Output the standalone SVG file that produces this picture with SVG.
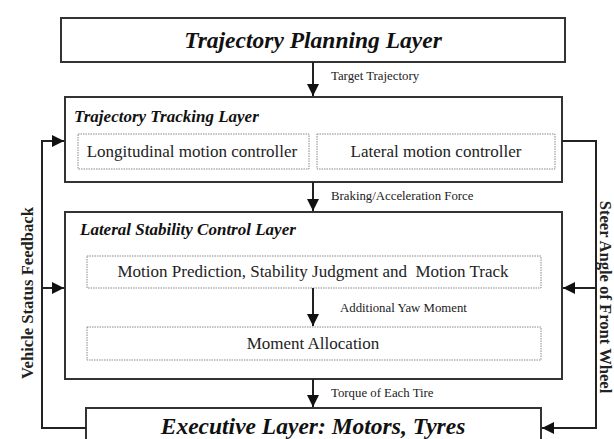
<svg xmlns="http://www.w3.org/2000/svg" width="614" height="439" viewBox="0 0 614 439">
<style>
.box{fill:#fff;stroke:#333;stroke-width:2}
.sub{fill:#fff;stroke:#888;stroke-width:1;stroke-dasharray:1.5 1}
.ln{fill:none;stroke:#222;stroke-width:2}
text{font-family:'Liberation Serif','Times New Roman',serif}
.bt{font-weight:bold;font-style:italic;fill:#111}
.rt{fill:#222;font-size:17px}
.lbl{font-size:12.8px;fill:#222}
.side{font-weight:bold;font-size:16.6px;fill:#222}
</style>
<defs>
<marker id="ah" viewBox="0 0 10 10" refX="10" refY="5" markerWidth="6" markerHeight="6" markerUnits="strokeWidth" orient="auto">
<path d="M0,0 L10,5 L0,10 Z" fill="#111"/>
</marker>
</defs>
<rect width="614" height="439" fill="#fff"/>
<g id="planning">
<rect class="box" x="61" y="18" width="504" height="44"/>
<text class="bt" x="313" y="48" font-size="23.5px" text-anchor="middle">Trajectory Planning Layer</text>
</g>
<g id="tracking">
<rect class="box" x="65" y="97" width="497" height="85"/>
<text class="bt" x="74" y="122" font-size="17px">Trajectory Tracking Layer</text>
<g id="longitudinal">
<rect class="sub" x="78" y="134" width="231" height="35"/>
<text class="rt" x="192" y="157" text-anchor="middle">Longitudinal motion controller</text>
</g>
<g id="lateral-ctrl">
<rect class="sub" x="317" y="134" width="238" height="35"/>
<text class="rt" x="436" y="157" text-anchor="middle">Lateral motion controller</text>
</g>
</g>
<g id="stability">
<rect class="box" x="65" y="212" width="497" height="167"/>
<text class="bt" x="80" y="235" font-size="17px">Lateral Stability Control Layer</text>
<g id="prediction">
<rect class="sub" x="87" y="256" width="454" height="32"/>
<text class="rt" x="313" y="277" text-anchor="middle" xml:space="preserve">Motion Prediction, Stability Judgment and  Motion Track</text>
</g>
<g id="allocation">
<rect class="sub" x="87" y="327" width="454" height="33"/>
<text class="rt" x="313" y="349" text-anchor="middle">Moment Allocation</text>
</g>
</g>
<g id="executive">
<rect class="box" x="86" y="408" width="455" height="40"/>
<text class="bt" x="313" y="434" font-size="23.5px" text-anchor="middle">Executive Layer: Motors, Tyres</text>
</g>
<g id="connectors">
<line class="ln" x1="313" y1="62" x2="313" y2="96" marker-end="url(#ah)"/>
<text class="lbl" x="331" y="80">Target Trajectory</text>
<line class="ln" x1="313" y1="182" x2="313" y2="211" marker-end="url(#ah)"/>
<text class="lbl" x="331" y="200">Braking/Acceleration Force</text>
<line class="ln" x1="313" y1="288" x2="313" y2="326" marker-end="url(#ah)"/>
<text class="lbl" x="340" y="312">Additional Yaw Moment</text>
<line class="ln" x1="313" y1="379" x2="313" y2="407" marker-end="url(#ah)"/>
<text class="lbl" x="331" y="397">Torque of Each Tire</text>
<polyline class="ln" points="86,428 42,428 42,141 64,141" marker-end="url(#ah)"/>
<line class="ln" x1="42" y1="288" x2="64" y2="288" marker-end="url(#ah)"/>
<polyline class="ln" points="562,141 596,141 596,428 542,428" marker-end="url(#ah)"/>
<line class="ln" x1="596" y1="288" x2="563" y2="288" marker-end="url(#ah)"/>
<text class="side" transform="translate(33,293) rotate(-90)" text-anchor="middle">Vehicle Status Feedback</text>
<text class="side" transform="translate(599.5,297) rotate(90)" text-anchor="middle" font-size="16px">Steer Angle of Front Wheel</text>
</g>
</svg>
